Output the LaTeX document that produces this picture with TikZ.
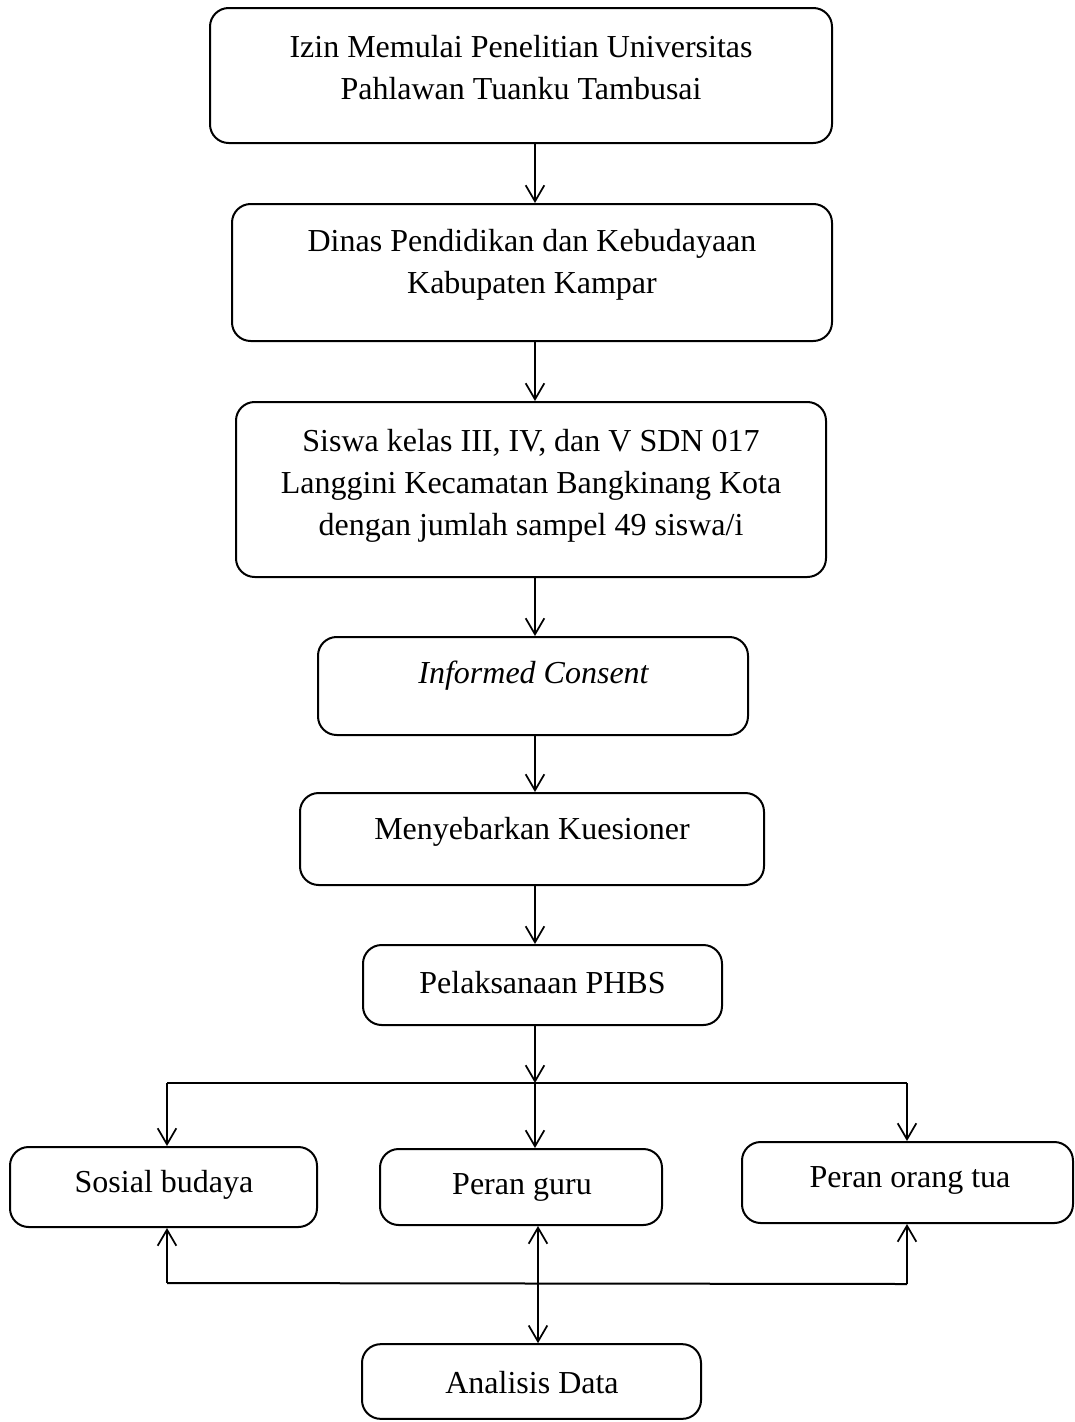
\documentclass[tikz,border=0pt]{standalone}
\usepackage{fontspec}
\setmainfont{Liberation Serif}
\usetikzlibrary{arrows.meta}
\begin{document}
\begin{tikzpicture}[x=0.75pt,y=-0.75pt,
  box/.style={draw, line width=1.5pt, rounded corners=14pt, inner sep=0pt},
  txt/.style={inner sep=0pt, align=center, font=\fontsize{24pt}{31.5pt}\selectfont},
  arr/.style={line width=1.5pt, -{Straight Barb[length=12pt,width=14pt,line width=1.3pt]}},
  arrr/.style={line width=1.5pt, {Straight Barb[length=12pt,width=14pt,line width=1.3pt]}-{Straight Barb[length=12pt,width=14pt,line width=1.3pt]}},
  ln/.style={line width=1.5pt}]
\useasboundingbox (0,0) rectangle (1075,1422);
\fill[white] (0,0) rectangle (1075,1422);

\node[box, minimum width=466.5pt, minimum height=101.25pt] (b1) at (521,75.5) {};
\node[box, minimum width=450pt, minimum height=102.75pt] (b2) at (532,272.5) {};
\node[box, minimum width=442.5pt, minimum height=131.25pt] (b3) at (531,489.5) {};
\node[box, minimum width=322.5pt, minimum height=73.5pt] (b4) at (533,686) {};
\node[box, minimum width=348pt, minimum height=69pt] (b5) at (532,839) {};
\node[box, minimum width=269.25pt, minimum height=60pt] (b6) at (542.5,985) {};
\node[box, minimum width=230.25pt, minimum height=60pt] (sb) at (163.5,1187) {};
\node[box, minimum width=211.5pt, minimum height=57pt] (pg) at (521,1187) {};
\node[box, minimum width=248.25pt, minimum height=60.75pt] (pot) at (907.5,1182.5) {};
\node[box, minimum width=254.25pt, minimum height=56pt] (ad) at (531.5,1381.5) {};

\node[txt] (t1) at (521,68) {Izin Memulai Penelitian Universitas\\Pahlawan Tuanku Tambusai};
\node[txt] (t2) at (532,265) {Dinas Pendidikan dan Kebudayaan\\Kabupaten Kampar};
\node[txt] (t3) at (531,486) {Siswa kelas III, IV, dan V SDN 017\\Langgini Kecamatan Bangkinang Kota\\dengan jumlah sampel 49 siswa/i};
\node[txt] (t4) at (533.5,676) {\itshape Informed Consent};
\node[txt] (t5) at (532,832) {Menyebarkan Kuesioner};
\node[txt] (t6) at (542.5,983) {Pelaksanaan PHBS};
\node[txt] (t7) at (164,1185) {Sosial budaya};
\node[txt] (t8) at (522,1187) {Peran guru};
\node[txt] (t9) at (910,1180) {Peran orang tua};
\node[txt] (t10) at (532,1383) {Analisis Data};

\coordinate (ax) at (535,0);
\coordinate (j) at (535,1083);
\coordinate (jl) at (167,1083);
\coordinate (jr) at (907,1083);
\coordinate (kl) at (167,1283);
\coordinate (kr) at (907,1284);
\coordinate (m) at (538,0);

\draw[arr] (b1.south -| ax) -- (b2.north -| ax);
\draw[arr] (b2.south -| ax) -- (b3.north -| ax);
\draw[arr] (b3.south -| ax) -- (b4.north -| ax);
\draw[arr] (b4.south -| ax) -- (b5.north -| ax);
\draw[arr] (b5.south -| ax) -- (b6.north -| ax);
\draw[arr] (b6.south -| ax) -- (j);
\draw[ln] (jl) -- (jr);
\draw[arr] (jl) -- (sb.north -| jl);
\draw[arr] (j) -- (pg.north -| j);
\draw[arr] (jr) -- (pot.north -| jr);
\draw[ln] (kl) -- (kr);
\draw[arr] (kl) -- (sb.south -| kl);
\draw[arr] (kr) -- (pot.south -| kr);
\draw[arrr] (pg.south -| m) -- (ad.north -| m);
\end{tikzpicture}
\end{document}
